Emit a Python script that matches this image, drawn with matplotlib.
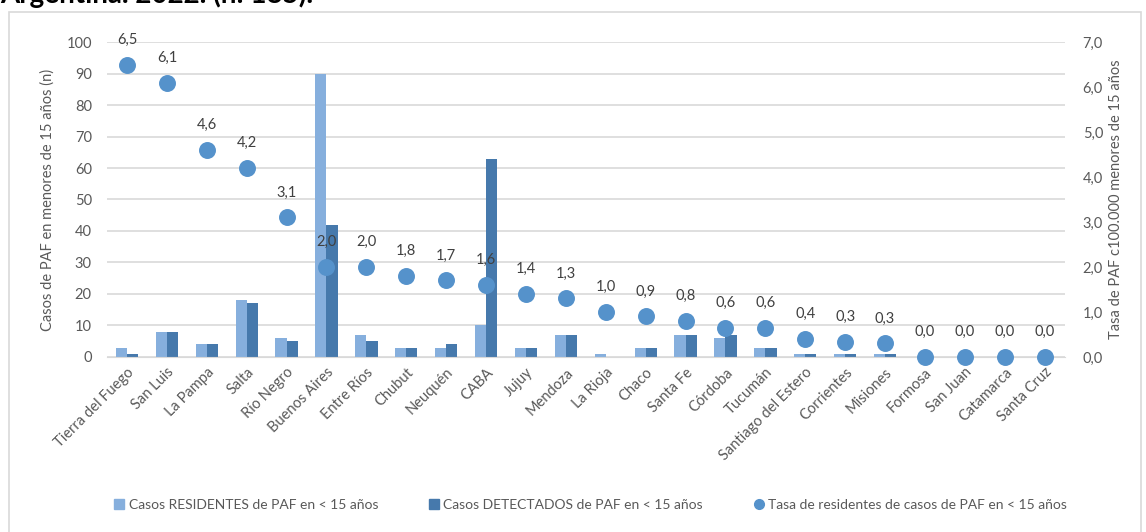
import matplotlib.pyplot as plt
import numpy as np
from matplotlib.lines import Line2D
from matplotlib.patches import Rectangle

provincias = [
    "Tierra del Fuego", "San Luis", "La Pampa", "Salta", "Río Negro",
    "Buenos Aires", "Entre Ríos", "Chubut", "Neuquén", "CABA", "Jujuy",
    "Mendoza", "La Rioja", "Chaco", "Santa Fe", "Córdoba", "Tucumán",
    "Santiago del Estero", "Corrientes", "Misiones", "Formosa", "San Juan",
    "Catamarca", "Santa Cruz",
]
residentes = [3, 8, 4, 18, 6, 90, 7, 3, 3, 10, 3, 7, 1, 3, 7, 6, 3, 1, 1, 1, 0, 0, 0, 0]
detectados = [1, 8, 4, 17, 5, 42, 5, 3, 4, 63, 3, 7, 0, 3, 7, 7, 3, 1, 1, 1, 0, 0, 0, 0]
tasa = [6.5, 6.1, 4.6, 4.2, 3.1, 2.0, 2.0, 1.8, 1.7, 1.6, 1.4, 1.3, 1.0, 0.9,
        0.8, 0.64, 0.64, 0.4, 0.33, 0.3, 0.0, 0.0, 0.0, 0.0]

c_res = "#86AFDD"
c_det = "#4679AC"
c_pt = "#5592CB"
c_txt = "#595959"

plt.rcParams["font.family"] = ["Lato", "DejaVu Sans"]

fig = plt.figure(figsize=(11.46, 5.32), dpi=100)
ax = fig.add_axes([0.0934, 0.329, 0.8356, 0.592])
ax2 = ax.twinx()

x = np.arange(len(provincias))
w = 0.28
ax.bar(x - w / 2, residentes, w, color=c_res, zorder=2)
ax.bar(x + w / 2, detectados, w, color=c_det, zorder=2)

ax.set_xlim(-0.5, len(provincias) - 0.5)
ax.set_ylim(0, 100)
ax.set_yticks(np.arange(0, 101, 10))
ax.grid(axis="y", color="#D9D9D9", linewidth=1.2, zorder=0)
ax.set_axisbelow(True)
for s in ax.spines.values():
    s.set_visible(False)
for s in ax2.spines.values():
    s.set_visible(False)
ax.spines["bottom"].set_visible(True)
ax.spines["bottom"].set_color("#D9D9D9")
ax.tick_params(axis="both", length=0, colors=c_txt, labelsize=10.5)
ax.tick_params(axis="y", pad=11)
ax.tick_params(axis="x", pad=6)
ax.set_xticks(x)
ax.set_xticklabels(provincias, rotation=45, ha="right", rotation_mode="anchor")
ax.set_ylabel("Casos de PAF en menores de 15 años (n)", color=c_txt, fontsize=10.5,
              labelpad=8)

ax2.scatter(x, tasa, s=125, color=c_pt, zorder=3, clip_on=False)
ax2.set_ylim(0, 7)
ax2.set_yticks(np.arange(0, 8, 1))
ax2.set_yticklabels([f"{v:.1f}".replace(".", ",") for v in np.arange(0, 8, 1)])
ax2.tick_params(axis="y", length=0, colors=c_txt, labelsize=10.5, pad=13)
ax2.set_ylabel("Tasa de PAF c100.000 menores de 15 años", color=c_txt, fontsize=10.5,
               labelpad=4)
for xi, v in zip(x, tasa):
    ax2.annotate(f"{v:.1f}".replace(".", ","), (xi, v), xytext=(0, 13),
                 textcoords="offset points", ha="center", va="bottom",
                 color="#404040", fontsize=10.5, annotation_clip=False)

handles = [
    Line2D([], [], marker="s", linestyle="none", markersize=7, color=c_res,
           label="Casos RESIDENTES de PAF en < 15 años"),
    Line2D([], [], marker="s", linestyle="none", markersize=7, color=c_det,
           label="Casos DETECTADOS de PAF en < 15 años"),
    Line2D([], [], marker="o", linestyle="none", markersize=7, color=c_pt,
           label="Tasa de residentes de casos de PAF en < 15 años"),
]
leg = fig.legend(handles=handles, loc="center", bbox_to_anchor=(0.515, 1 - 505 / 532),
                 ncol=3, frameon=False, fontsize=10, handlelength=0.8,
                 handletextpad=0.3, columnspacing=3.6)
for t in leg.get_texts():
    t.set_color(c_txt)

fig.patches.append(Rectangle((9 / 1146, -0.1), 1132 / 1146, 1.1 - 12 / 532,
                             transform=fig.transFigure, fill=False,
                             edgecolor="#D9D9D9", linewidth=1.2))
# title is only partly visible at the top edge, as in the source image
fig.text(0.0, 1 - 3 / 532, "Argentina. 2022. (n: 185).", fontsize=20,
         fontweight="bold", color="black", ha="left", va="baseline")

fig.savefig("out.png", dpi=100)
